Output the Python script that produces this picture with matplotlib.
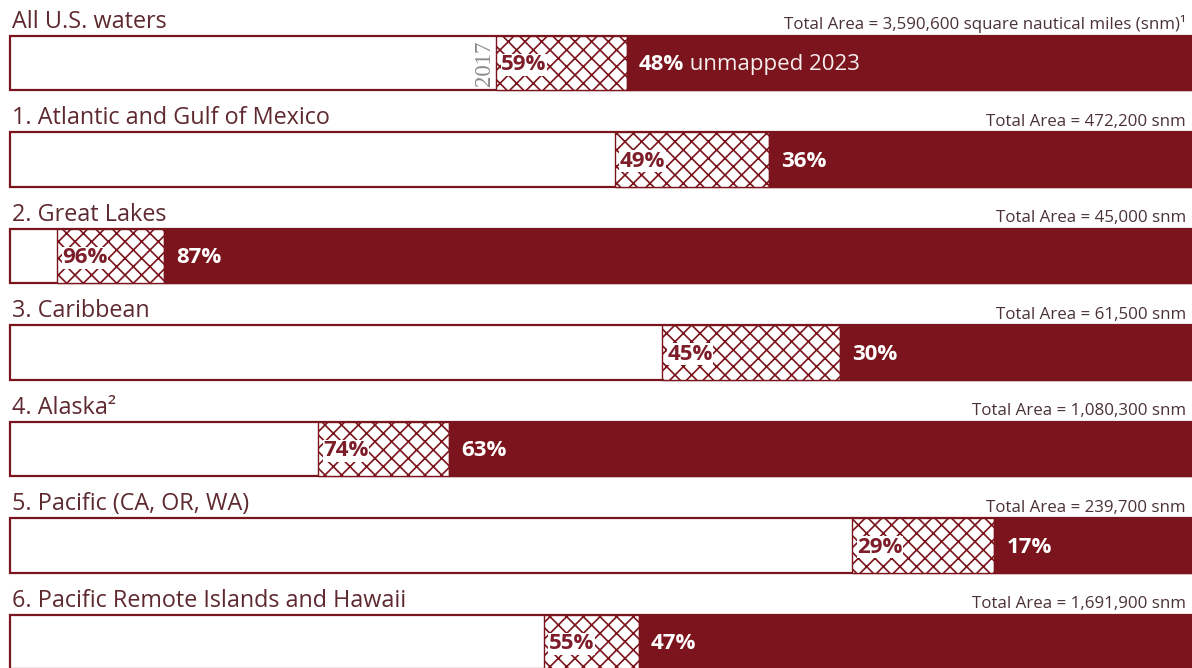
import matplotlib.pyplot as plt
import matplotlib as mpl

# unmapped share of each region, 2017 and 2023
regions = ["All U.S. waters", "1. Atlantic and Gulf of Mexico", "2. Great Lakes",
           "3. Caribbean", "4. Alaska\u00b2", "5. Pacific (CA, OR, WA)",
           "6. Pacific Remote Islands and Hawaii"]
unmapped_2017 = [59, 49, 96, 45, 74, 29, 55]
unmapped_2023 = [48, 36, 87, 30, 63, 17, 47]
area_labels = ["Total Area = 3,590,600 square nautical miles (snm)\u00b9",
               "Total Area = 472,200 snm", "Total Area = 45,000 snm",
               "Total Area = 61,500 snm", "Total Area = 1,080,300 snm",
               "Total Area = 239,700 snm", "Total Area = 1,691,900 snm"]

dark = "#7b141c"
label_col = "#5e2a2f"
mpl.rcParams['font.family'] = ['Open Sans', 'DejaVu Sans']
mpl.rcParams['hatch.linewidth'] = 1.2

fig = plt.figure(figsize=(11.92, 6.68), dpi=100)
ax = fig.add_axes([0, 0, 1, 1])
ax.set_xlim(-10 / 1186, 1182 / 1186)
ax.set_ylim((668 - 63) / 96.5, -63 / 96.5)
ax.axis('off')

h = 0.56
for i, (name, p17, p23, area) in enumerate(zip(regions, unmapped_2017, unmapped_2023, area_labels)):
    s17 = 1 - p17 / 100
    s23 = 1 - p23 / 100
    ax.barh(i, 1, height=h, left=0, color='white', edgecolor=dark, linewidth=1.6)
    ax.barh(i, s23 - s17, height=h, left=s17, color='white', edgecolor=dark,
            hatch='xx', linewidth=1.0)
    ax.barh(i, 1 - s23, height=h, left=s23, color=dark, edgecolor=dark, linewidth=1.0)

    ax.text(0.0017, i - h / 2 - 0.085, name, fontsize=16.8, color=label_col, va='baseline', ha='left')
    ax.text(0.9966 - 6 / 1186, i - h / 2 - 0.07, area, fontsize=12.2, color="#4a3235",
            va='baseline', ha='right')

    ax.text(s17 + 5 / 1186, i + 0.02, f"{p17}%", fontsize=16, fontweight='bold', color="#7d1d2a",
            va='center', ha='left',
            bbox=dict(facecolor='white', edgecolor='none', pad=0.3))
    if i == 0:
        t = ax.text(s23 + 12 / 1186, i + 0.02, f"{p23}%", fontsize=16, fontweight='bold',
                    color='white', va='center', ha='left')
        ax.annotate(" unmapped 2023", xycoords=t, xy=(1, 0), va='bottom', ha='left',
                    fontsize=16, color='#f6eeee')
        ax.text(s17 - 1 / 1186, i, "2017", rotation=90, fontsize=16.5, color='#8a8a8a',
                va='center', ha='right', family='Liberation Serif')
    else:
        ax.text(s23 + 12 / 1186, i + 0.02, f"{p23}%", fontsize=16, fontweight='bold',
                color='white', va='center', ha='left')

fig.savefig("out.png", dpi=100)
